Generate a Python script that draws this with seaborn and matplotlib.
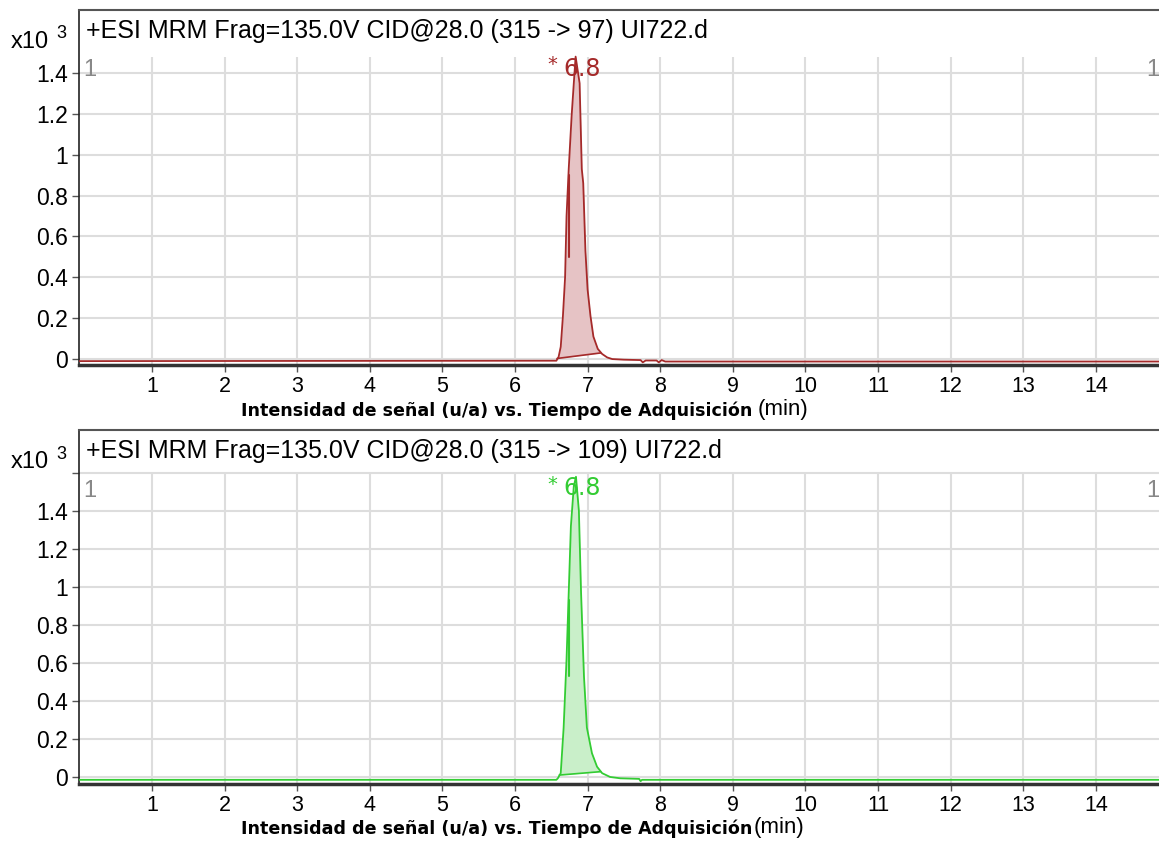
import numpy as np
import matplotlib
matplotlib.use("Agg")
import matplotlib.pyplot as plt
import seaborn as sns
import pandas as pd

# retention time (min) and intensity (x10^3)
top_time = [0.0, 6.57, 6.60, 6.63, 6.66, 6.69, 6.71, 6.74, 6.78, 6.81, 6.835,
            6.89, 6.92, 6.94, 6.97, 7.00, 7.04, 7.08, 7.14, 7.20, 7.27, 7.34,
            7.50, 7.73, 7.76, 7.80, 7.95, 7.98, 8.02, 8.07, 14.9]
top_signal = [-0.010, -0.008, 0.010, 0.060, 0.210, 0.400, 0.700, 0.930, 1.190, 1.350, 1.480,
              1.350, 0.930, 0.860, 0.530, 0.340, 0.210, 0.110, 0.050, 0.025, 0.008, 0.000,
              -0.003, -0.005, -0.016, -0.007, -0.007, -0.016, -0.005, -0.012, -0.012]
top_baseline = [(6.58, 0.003), (7.18, 0.030)]
top_mark = [(6.74, 0.50), (6.74, 0.90)]

bot_time = [0.0, 6.57, 6.59, 6.63, 6.67, 6.71, 6.74, 6.77, 6.81, 6.84,
            6.88, 6.91, 6.95, 6.99, 7.06, 7.13, 7.20, 7.31, 7.45, 7.71, 7.73, 7.75, 14.9]
bot_signal = [-0.015, -0.015, -0.007, 0.020, 0.260, 0.620, 0.970, 1.320, 1.530, 1.580,
              1.400, 0.970, 0.530, 0.260, 0.125, 0.054, 0.020, 0.000, -0.007, -0.010, -0.022, -0.015, -0.015]
bot_baseline = [(6.61, 0.010), (7.18, 0.028)]
bot_mark = [(6.74, 0.53), (6.74, 0.93)]

x_ticks = list(range(1, 15))
top_yticks = [0, 0.2, 0.4, 0.6, 0.8, 1.0, 1.2, 1.4]
top_ylabels = ["0", "0.2", "0.4", "0.6", "0.8", "1", "1.2", "1.4"]
bot_yticks = [0, 0.2, 0.4, 0.6, 0.8, 1.0, 1.2, 1.4, 1.6]
bot_ylabels = ["0", "0.2", "0.4", "0.6", "0.8", "1", "1.2", "1.4", ""]

titles = ["+ESI MRM Frag=135.0V CID@28.0 (315 -> 97) UI722.d",
          "+ESI MRM Frag=135.0V CID@28.0 (315 -> 109) UI722.d"]
peak_label = "6.8"
xlabel_bold = "Intensidad de señal (u/a) vs. Tiempo de Adquisición"

sns.set_style("white")
plt.rcParams['font.family'] = ['Liberation Sans', 'DejaVu Sans']
plt.rcParams['text.color'] = 'black'
plt.rcParams['xtick.labelcolor'] = 'black'
plt.rcParams['ytick.labelcolor'] = 'black'

fig = plt.figure(figsize=(11.59, 8.43), dpi=100)
W, H = 1159, 843


def px(x, y):
    return x / W, 1 - y / H


panels = [
    dict(time=top_time, signal=top_signal, base=top_baseline, mark=top_mark,
         color="#A52A2A", fill="#E6C3C5", yticks=top_yticks, ylabels=top_ylabels,
         ylim=(-0.029, 1.708), grid_top=1.48, box=(10, 365), title=titles[0],
         label_y=1.42, one_y=1.415, xlab_y=411, min_x=758),
    dict(time=bot_time, signal=bot_signal, base=bot_baseline, mark=bot_mark,
         color="#33CC33", fill="#C9EFC9", yticks=bot_yticks, ylabels=bot_ylabels,
         ylim=(-0.037, 1.826), grid_top=1.6, box=(430, 784), title=titles[1],
         label_y=1.52, one_y=1.505, xlab_y=829, min_x=754),
]

xlim = (-0.005, 14.87)
for p in panels:
    top_px, bot_px = p["box"]
    ax = fig.add_axes([79 / W, 1 - bot_px / H, 1 - 79 / W, (bot_px - top_px) / H])
    ax.set_xlim(*xlim)
    ax.set_ylim(*p["ylim"])

    # grid
    ax.vlines(x_ticks, p["ylim"][0], p["grid_top"], color="#DDDDDD", lw=1.5, zorder=0)
    ax.hlines(p["yticks"], xlim[0], xlim[1], color="#DDDDDD", lw=1.5, zorder=0)

    df = pd.DataFrame({"time": p["time"], "signal": p["signal"]})
    # integrated peak area
    t = np.array(p["time"])
    s = np.array(p["signal"])
    (b0x, b0y), (b1x, b1y) = p["base"]
    m = (t >= b0x) & (t <= b1x)
    ft = np.concatenate([[b0x], t[m], [b1x]])
    fs = np.concatenate([[b0y], np.interp(t[m], t, s), [np.interp(b1x, t, s)]])
    fb = np.interp(ft, [b0x, b1x], [b0y, b1y])
    ax.fill_between(ft, fb, fs, color=p["fill"], lw=0, zorder=1)
    ax.plot([b0x, b1x], [b0y, b1y], color=p["color"], lw=1.2, zorder=2)
    ax.plot([q[0] for q in p["mark"]], [q[1] for q in p["mark"]], color=p["color"], lw=1.5, zorder=2)
    sns.lineplot(data=df, x="time", y="signal", color=p["color"], lw=1.3, ax=ax,
                 estimator=None, sort=False, zorder=3)

    ax.set_xticks(x_ticks)
    ax.set_xticklabels([str(v) for v in x_ticks], fontsize=15.5)
    ax.set_yticks(p["yticks"])
    ax.set_yticklabels(p["ylabels"], fontsize=16.5)
    ax.tick_params(axis="both", direction="out", length=5, width=1, color="#555555",
                   labelcolor="black", bottom=True, left=True, pad=3)
    ax.set_xlabel("")
    ax.set_ylabel("")

    ax.spines["right"].set_visible(False)
    ax.spines["left"].set_color("#222222")
    ax.spines["left"].set_linewidth(1.2)
    ax.spines["top"].set_color("#555555")
    ax.spines["top"].set_linewidth(1.5)
    ax.spines["bottom"].set_color("#333333")
    ax.spines["bottom"].set_linewidth(2.5)

    # annotations
    ax.text(6.51, p["label_y"] + 0.02, "*", color=p["color"], fontsize=14,
            family="DejaVu Sans", ha="center", va="center")
    ax.text(6.66, p["label_y"], peak_label, color=p["color"], fontsize=17,
            family="DejaVu Sans", ha="left", va="center")
    ax.text(0.15, p["one_y"], "1", color="#888888", fontsize=17, ha="center", va="center")
    ax.text(14.79, p["one_y"], "1", color="#888888", fontsize=17, ha="center", va="center")

    fig.text(*px(86, top_px + 21), p["title"], fontsize=18, ha="left", va="center")
    fig.text(*px(30, top_px + 32), "x10", fontsize=17, ha="center", va="center")
    fig.text(*px(61, top_px + 24), "3", fontsize=13, ha="center", va="center")
    fig.text(*px(241, p["xlab_y"]), xlabel_bold, fontsize=12.6, fontweight="bold",
             family="DejaVu Sans", ha="left", va="center")
    fig.text(*px(p["min_x"], p["xlab_y"] - 1), "(min)", fontsize=16, ha="left", va="center")

fig.savefig("out.png", dpi=100)
